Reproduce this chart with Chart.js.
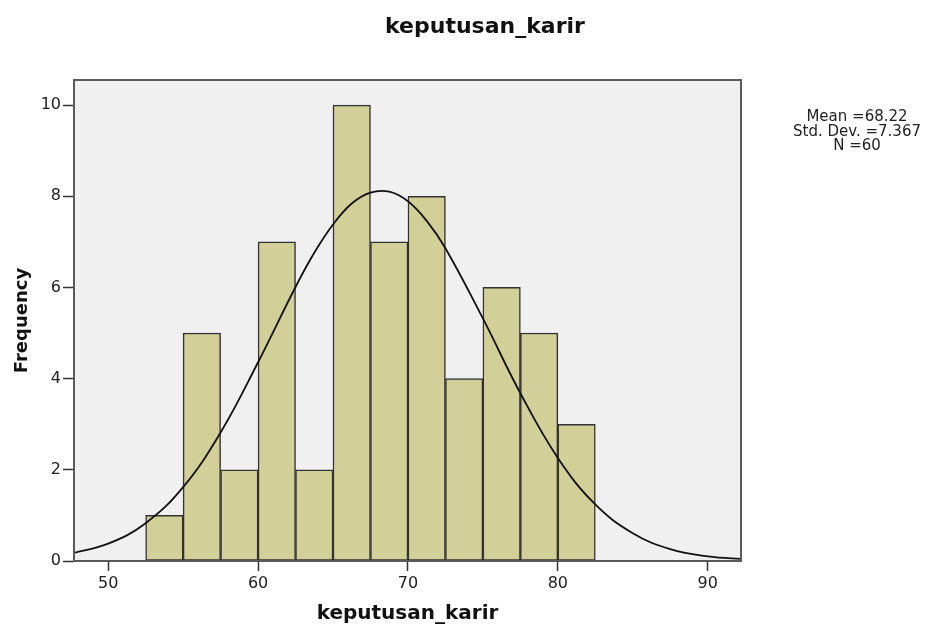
<!DOCTYPE html>
<html>
<head>
<meta charset="utf-8">
<title>keputusan_karir</title>
<script src="https://cdn.jsdelivr.net/npm/chart.js@4/dist/chart.umd.min.js"></script>
<style>
    html, body { margin: 0; padding: 0; background: #fff; }
    #wrap { width: 927px; height: 628px; }
</style>
</head>
<body>
<div id="wrap"><canvas id="histChart" width="927" height="628"></canvas></div>
<script>
// histogram bins (lower edge, width 2.5)
const binStarts = [52.5, 55, 57.5, 60, 62.5, 65, 67.5, 70, 72.5, 75, 77.5, 80];
const frequencies = [1, 5, 2, 7, 2, 10, 7, 8, 4, 6, 5, 3];
const binWidth = 2.5;

// normal curve
const curveX = [47.5, 50, 52.5, 55, 57.5, 60, 62.5, 63.75, 65, 66.25, 67.5, 68.75, 70, 71.25, 72.5, 75, 77.5, 80, 82.5, 85, 87.5, 90, 92.5];
const curveY = [0.16, 0.38, 0.83, 1.62, 2.82, 4.36, 6.01, 6.76, 7.38, 7.84, 8.08, 8.10, 7.89, 7.46, 6.86, 5.32, 3.68, 2.26, 1.24, 0.61, 0.26, 0.10, 0.04];

const xTicks = [50, 60, 70, 80, 90];
const yTicks = [0, 2, 4, 6, 8, 10];
const statLines = ['Mean =68.22', 'Std. Dev. =7.367', 'N =60'];
const chartTitle = 'keputusan_karir';

const FONT = "'DejaVu Sans', sans-serif";

const spssFrame = {
    id: 'spssFrame',
    beforeDatasetsDraw(chart) {
        const { ctx, chartArea: a } = chart;
        ctx.save();
        ctx.fillStyle = '#f0f0f0';
        ctx.fillRect(a.left, a.top, a.right - a.left, a.bottom - a.top);
        ctx.restore();
    },
    afterDatasetsDraw(chart) {
        const { ctx, chartArea: a } = chart;
        ctx.save();
        ctx.strokeStyle = '#5a5a5a';
        ctx.lineWidth = 2;
        ctx.strokeRect(a.left, a.top, a.right - a.left, a.bottom - a.top);
        ctx.restore();
    },
    afterDraw(chart) {
        const ctx = chart.ctx;
        ctx.save();
        ctx.fillStyle = '#111';
        ctx.textAlign = 'center';
        ctx.textBaseline = 'alphabetic';
        ctx.font = `bold 22px ${FONT}`;
        ctx.fillText(chartTitle, 485, 33);

        ctx.fillStyle = '#222';
        ctx.font = `15px ${FONT}`;
        statLines.forEach((line, i) => {
            ctx.fillText(line, 857, 121 + i * 14.6);
        });
        ctx.restore();
    }
};

document.addEventListener('DOMContentLoaded', () => {
    drawHistogram();
});

function drawHistogram() {
    const ctx = document.getElementById('histChart').getContext('2d');

    const bars = binStarts.map((s, i) => ({ x: s + binWidth / 2, y: frequencies[i] }));
    const curve = curveX.map((x, i) => ({ x: x, y: curveY[i] }));

    new Chart(ctx, {
        type: 'bar',
        data: {
            datasets: [{
                type: 'line',
                data: curve,
                borderColor: '#111',
                borderWidth: 1.8,
                pointRadius: 0,
                tension: 0.4,
                fill: false,
                order: 0
            }, {
                type: 'bar',
                data: bars,
                backgroundColor: '#d3cf98',
                borderColor: '#333',
                borderWidth: 1.5,
                borderSkipped: false,
                barPercentage: 1,
                categoryPercentage: 1,
                order: 1
            }]
        },
        options: {
            responsive: false,
            animation: false,
            layout: { padding: { left: 0, right: 186, top: 80, bottom: 0 } },
            plugins: {
                legend: { display: false },
                tooltip: { enabled: false },
                title: { display: false }
            },
            scales: {
                x: {
                    type: 'linear',
                    offset: false,
                    min: 47.72,
                    max: 92.22,
                    afterFit(scale) { scale.height = 67; },
                    afterBuildTicks(scale) { scale.ticks = xTicks.map(v => ({ value: v })); },
                    grid: { offset: false, drawOnChartArea: false, tickLength: 10, color: '#333', tickWidth: 1.5 },
                    border: { display: false },
                    ticks: {
                        includeBounds: false,
                        padding: 3,
                        color: '#222',
                        font: { family: FONT, size: 16 }
                    },
                    title: {
                        display: true,
                        text: 'keputusan_karir',
                        color: '#111',
                        font: { family: FONT, size: 20, weight: 'bold' },
                        padding: { top: 0, bottom: 2 }
                    }
                },
                y: {
                    min: 0,
                    max: 10.55,
                    afterFit(scale) { scale.width = 74; },
                    afterBuildTicks(scale) { scale.ticks = yTicks.map(v => ({ value: v })); },
                    grid: { drawOnChartArea: false, tickLength: 11, color: '#333', tickWidth: 1.5 },
                    border: { display: false },
                    ticks: {
                        includeBounds: false,
                        padding: 2,
                        color: '#222',
                        font: { family: FONT, size: 16 }
                    },
                    title: {
                        display: true,
                        text: 'Frequency',
                        color: '#111',
                        font: { family: FONT, size: 18, weight: 'bold' },
                        padding: { top: 12, bottom: 0 }
                    }
                }
            }
        },
        plugins: [spssFrame]
    });
}
</script>
</body>
</html>
